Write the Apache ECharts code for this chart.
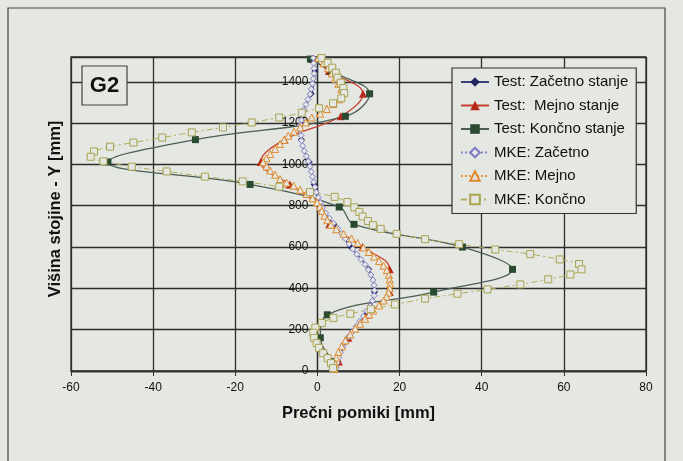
<!DOCTYPE html>
<html>
<head>
<meta charset="utf-8">
<script src="https://cdn.jsdelivr.net/npm/echarts@6/dist/echarts.min.js"></script>
<style>
html,body{margin:0;padding:0;background:#e4e7e2;}
#chart{width:683px;height:461px;}
</style>
</head>
<body>
<div id="chart"></div>
<script>
// ---- Data (x = Prečni pomiki [mm], y = Višina stojine [mm]) ----
const xTicks = [-60, -40, -20, 0, 20, 40, 60, 80];
const yTicks = [0, 200, 400, 600, 800, 1000, 1200, 1400];

// Test measurement heights
const testY = [1510, 1452, 1342, 1233, 1120, 1012, 903, 794, 710, 600, 492, 382, 272, 161, 46];
const testZacetnoX = [-1.0, -0.6, -1.5, -3.8, -3.9, -2.0, -0.8, 0.8, 4.0, 8.1, 12.5, 13.9, 11.8, 7.5, 5.0];
const testMejnoX   = [-1.2, 2.8, 11.1, 5.7, -8.0, -13.8, -6.7, 0.8, 2.9, 11.0, 17.6, 17.6, 12.0, 7.5, 5.2];
const testKoncnoX  = [-1.7, 3.3, 12.7, 6.8, -29.7, -51.0, -16.4, 5.3, 8.9, 35.3, 47.5, 28.3, 2.4, 0.7, 4.1];

// MKE: Začetno
const mkeZacetnoY = [1515, 1490, 1465, 1440, 1415, 1390, 1365, 1340, 1315, 1290, 1265, 1240, 1215, 1190, 1165, 1140, 1115, 1090, 1065, 1040, 1015, 990, 965, 940, 915, 890, 865, 840, 815, 790, 765, 740, 715, 690, 665, 640, 615, 590, 565, 540, 515, 490, 465, 440, 415, 390, 365, 340, 315, 290, 265, 240, 215, 190, 165, 140, 115, 90, 65, 40, 15];
const mkeZacetnoX = [-1.0, -0.9, -0.8, -0.8, -1.0, -1.2, -1.5, -1.8, -2.3, -2.8, -3.3, -3.7, -3.9, -4.1, -4.1, -4.0, -3.9, -3.6, -3.2, -2.7, -2.2, -1.8, -1.5, -1.2, -0.9, -0.6, -0.3, 0.2, 0.7, 1.2, 2.0, 2.9, 3.9, 4.9, 5.9, 6.8, 7.7, 8.6, 9.6, 10.6, 11.6, 12.4, 13.0, 13.5, 13.8, 13.9, 13.8, 13.4, 12.8, 12.0, 11.2, 10.3, 9.4, 8.5, 7.6, 6.9, 6.2, 5.6, 5.2, 4.8, 4.6];

// MKE: Mejno
const mkeMejnoY = [1515, 1490, 1465, 1440, 1415, 1390, 1365, 1340, 1315, 1292, 1268, 1246, 1227, 1203, 1179, 1159, 1139, 1119, 1099, 1075, 1050, 1030, 1010, 990, 970, 950, 929, 912, 897, 877, 857, 836, 816, 795, 775, 752, 730, 708, 686, 664, 642, 620, 598, 576, 554, 532, 510, 488, 465, 442, 420, 400, 380, 360, 341, 317, 293, 273, 253, 229, 205, 177, 148, 120, 92, 64, 36, 10];
const mkeMejnoX = [0.2, 1.5, 2.6, 3.5, 4.3, 5.1, 5.8, 5.9, 5.3, 3.9, 2.3, 0.7, -1.4, -2.8, -4.2, -5.7, -7.1, -8.1, -9.1, -10.3, -11.5, -12.4, -13.2, -12.4, -11.5, -10.3, -9.1, -7.5, -5.8, -4.2, -2.6, -1.2, -0.1, 0.6, 1.1, 1.7, 2.4, 3.3, 4.6, 6.4, 8.3, 9.8, 11.2, 12.5, 13.8, 15.0, 16.1, 16.9, 17.4, 17.6, 17.7, 17.6, 17.3, 16.8, 16.1, 15.0, 13.6, 12.6, 11.6, 10.4, 9.2, 8.0, 6.8, 5.9, 5.1, 4.6, 4.3, 4.2];

// MKE: Končno
const mkeKoncnoY = [1515, 1492, 1468, 1444, 1420, 1396, 1370, 1345, 1320, 1296, 1272, 1250, 1227, 1203, 1179, 1155, 1130, 1106, 1086, 1063, 1037, 1015, 989, 966, 941, 918, 892, 866, 843, 818, 792, 770, 748, 726, 706, 688, 664, 638, 614, 588, 566, 540, 518, 492, 467, 444, 419, 395, 374, 350, 322, 299, 277, 257, 233, 210, 185, 160, 135, 112, 86, 62, 38, 14];
const mkeKoncnoX = [1.0, 2.5, 3.6, 4.5, 4.9, 5.7, 6.3, 6.5, 5.8, 3.8, 0.4, -3.8, -9.3, -16.0, -23.0, -30.6, -37.8, -44.8, -50.5, -54.4, -55.2, -52.1, -45.2, -36.7, -27.4, -18.2, -9.3, -1.8, 4.2, 7.3, 9.0, 10.2, 11.0, 12.3, 13.5, 15.4, 19.3, 26.2, 34.5, 43.3, 51.8, 59.0, 63.7, 64.3, 61.6, 56.2, 49.4, 41.4, 34.1, 26.2, 18.9, 13.0, 8.0, 3.9, 1.1, -0.5, -1.0, -0.8, -0.2, 0.4, 1.4, 2.5, 3.3, 3.8];

const seriesNames = ['Test: Začetno stanje', 'Test:  Mejno stanje', 'Test: Končno stanje', 'MKE: Začetno', 'MKE: Mejno', 'MKE: Končno'];

// ---- Build ----
const BG = '#e4e7e2';
const GRID = '#2e2e2e';
const FONT = 'Liberation Sans, Arial, Helvetica, sans-serif';
const GRID_LEFT = 71, GRID_RIGHT = 37;
function zip(xs, ys){ return xs.map((x, i) => [x, ys[i]]); }

const chart = echarts.init(document.getElementById('chart'));
// y axis sits on x = 0 (offset inward from the left edge of the grid)
const plotW = 683 - GRID_LEFT - GRID_RIGHT;
const xMin = xTicks[0], xMax = xTicks[xTicks.length - 1];
const yAxisOffset = -plotW * (0 - xMin) / (xMax - xMin);

const option = {
  backgroundColor: BG,
  animation: false,
  textStyle: { fontFamily: FONT },
  grid: { left: GRID_LEFT, right: GRID_RIGHT, top: 57, bottom: 90, show: true, borderColor: GRID, borderWidth: 1.3, backgroundColor: 'transparent' },
  xAxis: {
    type: 'value', min: xMin, max: xMax, interval: 20,
    axisLine: { onZero: false, lineStyle: { color: GRID, width: 1.3 } },
    axisTick: { show: true, length: 5, lineStyle: { color: GRID } },
    axisLabel: { color: '#111', fontSize: 12, margin: 11, fontFamily: FONT, formatter: v => String(v) },
    splitLine: { show: true, lineStyle: { color: GRID, width: 1.3 } },
    name: 'Prečni pomiki [mm]', nameLocation: 'middle', nameGap: 34,
    nameTextStyle: { fontWeight: 'bold', fontSize: 16.5, color: '#111', fontFamily: FONT }
  },
  yAxis: {
    type: 'value', min: yTicks[0], max: 1520, interval: 200,
    position: 'left', offset: yAxisOffset,
    axisLine: { show: true, onZero: false, lineStyle: { color: GRID, width: 1.3 } },
    axisTick: { show: true, length: 4, lineStyle: { color: GRID } },
    axisLabel: { color: '#111', fontSize: 12, margin: 9, showMaxLabel: false, fontFamily: FONT, formatter: v => String(v) },
    splitLine: { show: true, lineStyle: { color: GRID, width: 1.3 } }
  },
  legend: {
    orient: 'vertical', left: 452, top: 68,
    padding: [6, 8, 6, 8],
    backgroundColor: BG, borderColor: '#333', borderWidth: 1.2,
    itemWidth: 28, itemHeight: 12, itemGap: 7.5,
    textStyle: { fontSize: 15, color: '#111', lineHeight: 16, fontFamily: FONT },
    data: seriesNames
  },
  series: [
    {
      name: seriesNames[0], type: 'line', data: zip(testZacetnoX, testY), smooth: 0.4,
      symbol: 'diamond', symbolSize: 7,
      lineStyle: { color: '#3b3f78', width: 1.3 },
      itemStyle: { color: '#23265e' }
    },
    {
      name: seriesNames[1], type: 'line', data: zip(testMejnoX, testY), smooth: 0.4,
      symbol: 'triangle', symbolSize: 8,
      lineStyle: { color: '#c8402a', width: 1.3 },
      itemStyle: { color: '#b8281a' }
    },
    {
      name: seriesNames[2], type: 'line', data: zip(testKoncnoX, testY), smooth: 0.4,
      symbol: 'rect', symbolSize: 7,
      lineStyle: { color: '#4c5e55', width: 1.3 },
      itemStyle: { color: '#2b4a32' }
    },
    {
      name: seriesNames[3], type: 'line', data: zip(mkeZacetnoX, mkeZacetnoY), smooth: 0.3,
      symbol: 'diamond', symbolSize: 6,
      lineStyle: { color: '#8a88c8', width: 1, type: [2, 2] },
      itemStyle: { color: BG, borderColor: '#7f7cc4', borderWidth: 1 }
    },
    {
      name: seriesNames[4], type: 'line', data: zip(mkeMejnoX, mkeMejnoY), smooth: 0.3,
      symbol: 'triangle', symbolSize: 7,
      lineStyle: { color: '#e29a3e', width: 1, type: [2, 2] },
      itemStyle: { color: BG, borderColor: '#e08a2c', borderWidth: 1 }
    },
    {
      name: seriesNames[5], type: 'line', data: zip(mkeKoncnoX, mkeKoncnoY), smooth: 0.3,
      symbol: 'rect', symbolSize: 7,
      lineStyle: { color: '#b3ad5c', width: 1, type: [6, 3, 2, 3] },
      itemStyle: { color: BG, borderColor: '#aaa350', borderWidth: 1 }
    }
  ],
  graphic: [
    { type: 'rect', shape: { x: 8, y: 8, width: 657, height: 500 }, style: { fill: 'none', stroke: '#444', lineWidth: 1.2 }, silent: true },
    { type: 'rect', shape: { x: 82, y: 66, width: 45, height: 39 }, style: { fill: BG, stroke: '#444', lineWidth: 1.2 }, z: 100 },
    { type: 'text', x: 104.5, y: 86, z: 101, style: { text: 'G2', font: 'bold 22px ' + FONT, fill: '#111', textAlign: 'center', textVerticalAlign: 'middle' } },
    { type: 'text', x: 55, y: 209, rotation: Math.PI / 2, z: 101, style: { text: 'Višina stojine - Y [mm]', font: 'bold 16.5px ' + FONT, fill: '#111', textAlign: 'center', textVerticalAlign: 'middle' } }
  ]
};
chart.setOption(option);
</script>
</body>
</html>
